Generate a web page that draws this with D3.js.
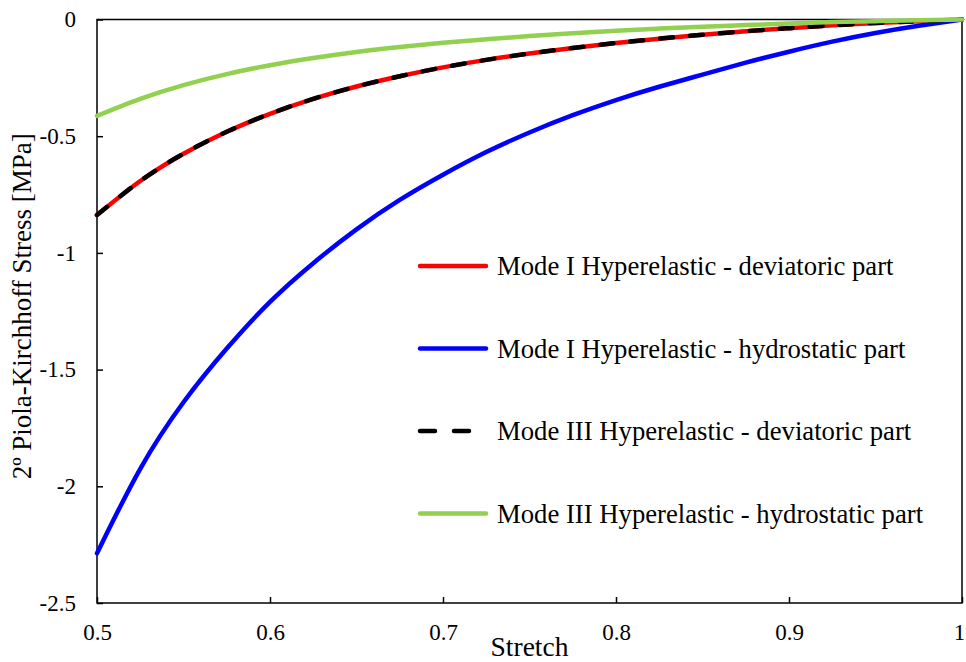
<!DOCTYPE html>
<html>
<head>
<meta charset="utf-8">
<script src="https://cdn.jsdelivr.net/npm/d3@7"></script>
<style>
  body { margin: 0; background: #fff; }
  svg { display: block; font-family: "Liberation Serif", "Times New Roman", serif; }
</style>
</head>
<body>
<div id="chart"></div>
<script>
// stretch values (x) and the four stress series [MPa]
var stretch = [0.5, 0.525, 0.55, 0.575, 0.6, 0.625, 0.65, 0.675, 0.7, 0.725, 0.75,
               0.775, 0.8, 0.825, 0.85, 0.875, 0.9, 0.925, 0.95, 0.975, 1];

var modeIDev = [-0.838, -0.692, -0.575, -0.481, -0.404, -0.340, -0.287, -0.243, -0.205, -0.173, -0.146,
                -0.122, -0.101, -0.082, -0.065, -0.050, -0.037, -0.025, -0.015, -0.007, 0];
var modeIHyd = [-2.287, -1.925, -1.640, -1.410, -1.210, -1.044, -0.899, -0.773, -0.665, -0.568, -0.484,
                -0.410, -0.345, -0.288, -0.236, -0.185, -0.138, -0.095, -0.058, -0.027, 0];
var modeIIIDev = [-0.838, -0.692, -0.575, -0.481, -0.404, -0.340, -0.287, -0.243, -0.205, -0.173, -0.146,
                  -0.122, -0.101, -0.082, -0.065, -0.050, -0.037, -0.025, -0.015, -0.007, 0];
var modeIIIHyd = [-0.413, -0.340, -0.281, -0.234, -0.196, -0.165, -0.139, -0.118, -0.100, -0.085, -0.071,
                  -0.059, -0.048, -0.039, -0.031, -0.024, -0.017, -0.011, -0.007, -0.003, 0];

var xTicks = [0.5, 0.6, 0.7, 0.8, 0.9, 1];
var yTicks = [0, -0.5, -1, -1.5, -2, -2.5];

var seriesNames = ["Mode I Hyperelastic - deviatoric part",
                   "Mode I Hyperelastic - hydrostatic part",
                   "Mode III Hyperelastic - deviatoric part",
                   "Mode III Hyperelastic - hydrostatic part"];

function drawChart() {
  var W = 966, H = 662;
  var margin = {top: 19.5, right: 4, bottom: 59, left: 97};
  var serif = "'Liberation Serif', 'Times New Roman', serif";

  var svg = d3.select("#chart").append("svg")
    .attr("width", W)
    .attr("height", H);

  var x = d3.scaleLinear().domain([0.5, 1]).range([margin.left, W - margin.right]);
  var y = d3.scaleLinear().domain([-2.5, 0]).range([H - margin.bottom, margin.top]);

  // axes, ticks pointing into the plot
  var xAxis = svg.append("g")
    .attr("transform", "translate(0," + y(-2.5) + ")")
    .call(d3.axisBottom(x).tickValues(xTicks).tickSize(-6).tickPadding(21)
      .tickFormat(function(d) { return String(d); }));
  xAxis.select(".domain").remove();
  // last label sits on the page edge
  xAxis.selectAll(".tick text").filter(function(d) { return d === 1; }).attr("dx", -3);

  var yAxis = svg.append("g")
    .attr("transform", "translate(" + x(0.5) + ",0)")
    .call(d3.axisLeft(y).tickValues(yTicks).tickSize(-6).tickPadding(21)
      .tickFormat(function(d) { return d === 0 ? "0" : String(d); }));
  yAxis.select(".domain").remove();

  svg.selectAll("g").attr("font-family", serif).attr("font-size", 23);
  svg.selectAll(".tick line").attr("stroke", "#000").attr("stroke-width", 1.5);
  svg.selectAll(".tick text").attr("fill", "#000");

  // plot frame
  svg.append("rect")
    .attr("x", x(0.5))
    .attr("y", y(0))
    .attr("width", x(1) - x(0.5))
    .attr("height", y(-2.5) - y(0))
    .attr("fill", "none")
    .attr("stroke", "#000")
    .attr("stroke-width", 1.5);

  var line = d3.line()
    .x(function(d) { return x(d[0]); })
    .y(function(d) { return y(d[1]); })
    .curve(d3.curveNatural);

  function pts(vals) { return stretch.map(function(s, i) { return [s, vals[i]]; }); }

  var styles = [
    {data: modeIDev, color: "#FF0000", dash: null},
    {data: modeIHyd, color: "#0000FF", dash: null},
    {data: modeIIIDev, color: "#000000", dash: "13,17"},
    {data: modeIIIHyd, color: "#92D050", dash: null}
  ];

  styles.forEach(function(s) {
    svg.append("path")
      .attr("d", line(pts(s.data)))
      .attr("fill", "none")
      .attr("stroke", s.color)
      .attr("stroke-width", 4.5)
      .attr("stroke-linecap", "round")
      .attr("stroke-dasharray", s.dash);
  });

  // legend
  var legend = svg.append("g");
  styles.forEach(function(s, i) {
    var ly = 266 + i * 82.5;
    legend.append("line")
      .attr("x1", 420).attr("x2", 486)
      .attr("y1", ly).attr("y2", ly)
      .attr("stroke", s.color)
      .attr("stroke-width", 4.5)
      .attr("stroke-linecap", "round")
      .attr("stroke-dasharray", s.dash ? "15,19" : null);
    legend.append("text")
      .attr("x", 497)
      .attr("y", ly)
      .attr("dy", "0.34em")
      .attr("font-family", serif)
      .attr("font-size", 26.7)
      .text(seriesNames[i]);
  });

  // axis titles
  svg.append("text")
    .attr("x", (x(0.5) + x(1)) / 2)
    .attr("y", 656)
    .attr("text-anchor", "middle")
    .attr("font-family", serif)
    .attr("font-size", 27.5)
    .text("Stretch");

  svg.append("text")
    .attr("transform", "translate(31," + ((y(0) + y(-2.5)) / 2 - 5) + ") rotate(-90)")
    .attr("text-anchor", "middle")
    .attr("font-family", serif)
    .attr("font-size", 27)
    .text("2º Piola-Kirchhoff Stress [MPa]");
}

drawChart();
</script>
</body>
</html>
